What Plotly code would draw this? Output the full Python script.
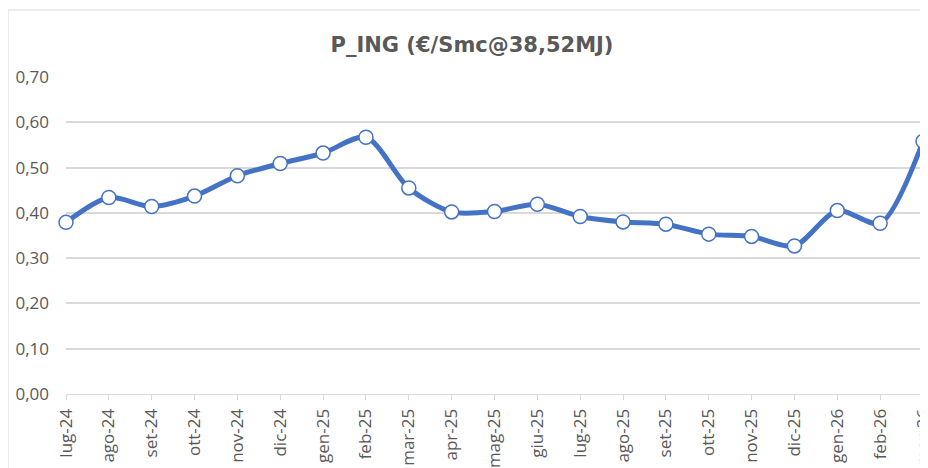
import plotly.graph_objects as go

months = ["lug-24", "ago-24", "set-24", "ott-24", "nov-24", "dic-24", "gen-25", "feb-25",
          "mar-25", "apr-25", "mag-25", "giu-25", "lug-25", "ago-25", "set-25", "ott-25",
          "nov-25", "dic-25", "gen-26", "feb-26", "mar-26"]
p_ing = [0.379, 0.434, 0.414, 0.437, 0.482, 0.509, 0.532, 0.567,
         0.455, 0.402, 0.403, 0.419, 0.392, 0.380, 0.375, 0.353,
         0.348, 0.327, 0.405, 0.377, 0.558]
y_ticks = [0.0, 0.1, 0.2, 0.3, 0.4, 0.5, 0.6, 0.7]
y_tick_text = ["0,00", "0,10", "0,20", "0,30", "0,40", "0,50", "0,60", "0,70"]

TICK_FONT = "Open Sans"
TITLE_FONT = "DejaVu Sans"
GREY = "#595959"

# the page body has an 8px margin, so the figure sits 8px right/down in the window
fig = go.Figure()
fig.add_trace(go.Scatter(
    x=months, y=p_ing, mode="lines+markers",
    line=dict(color="#4472C4", width=5, shape="spline", smoothing=0.8),
    marker=dict(size=14, color="white", line=dict(color="#4472C4", width=1.5)),
    cliponaxis=False, hoverinfo="x+y",
))

fig.update_layout(
    width=928, height=468,
    margin=dict(l=58, r=13, t=69, b=82, autoexpand=False),
    paper_bgcolor="white", plot_bgcolor="white",
    showlegend=False,
    font=dict(family=TICK_FONT, color=GREY, size=17),
    title=dict(text="<b>P_ING (€/Smc@38,52MJ)</b>", x=464 / 928, xanchor="center",
               y=1 - 37 / 468, yanchor="middle", automargin=False,
               font=dict(family=TITLE_FONT, size=21, color=GREY)),
    xaxis=dict(type="category", range=[0, len(months) - 1], tickangle=-90,
               showgrid=False, showline=True, linecolor="#D9D9D9", linewidth=1,
               ticks="outside", ticklen=5, tickcolor="#D9D9D9", tickwidth=1,
               tickfont=dict(family=TICK_FONT, size=17, color=GREY), ticklabelstandoff=2,
               zeroline=False, automargin=False),
    yaxis=dict(range=[0, 0.70], tickvals=y_ticks, ticktext=y_tick_text,
               showgrid=True, gridcolor="#D9D9D9", gridwidth=1.5,
               showline=False, zeroline=False, ticks="", automargin=False,
               tickfont=dict(family=TICK_FONT, size=17, color=GREY), ticklabelstandoff=16),
    shapes=[dict(type="rect", xref="paper", yref="paper",
                 x0=-58 / 857, x1=1.2, y0=-0.5, y1=1 + (69 - 2) / 317,
                 line=dict(color="#D9D9D9", width=1), fillcolor="rgba(0,0,0,0)",
                 layer="below")],
)

fig.write_html("out.html")
